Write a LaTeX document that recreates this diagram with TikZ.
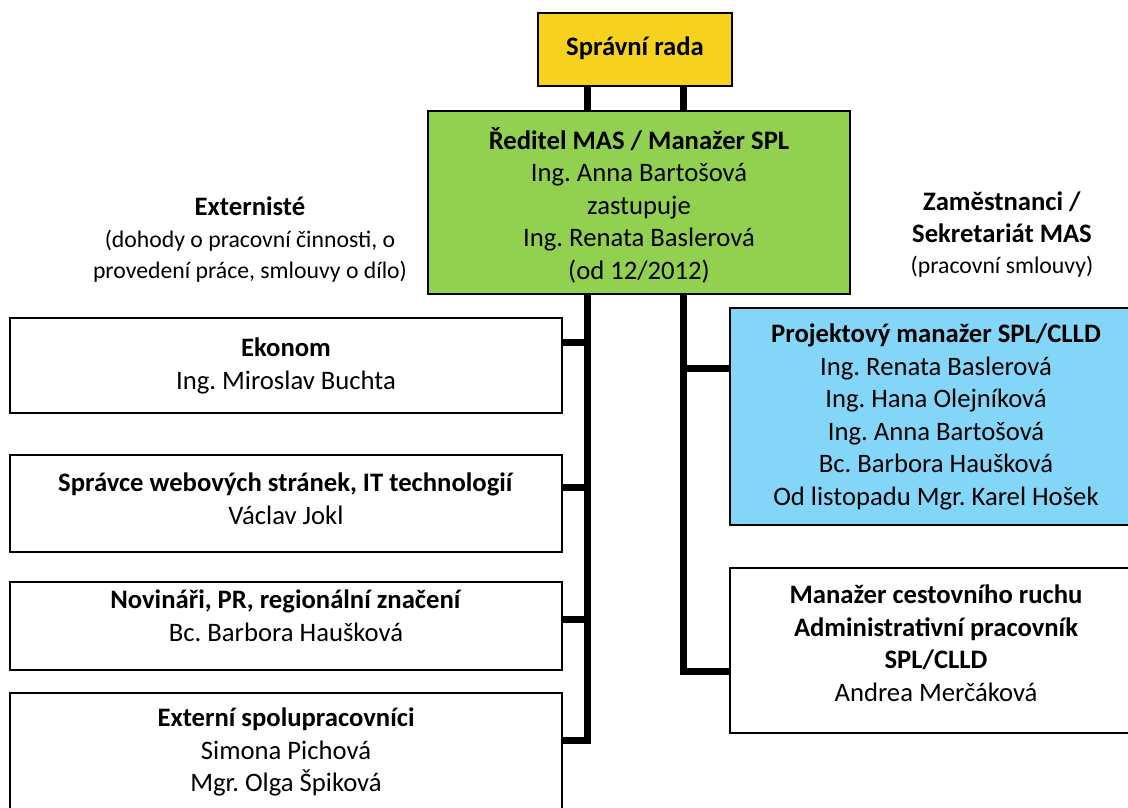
\documentclass[tikz,border=0pt]{standalone}
\usepackage{fontspec}
\setmainfont{Carlito}
\usetikzlibrary{backgrounds}
\frenchspacing

\definecolor{radaYellow}{RGB}{246,210,30}
\definecolor{reditelGreen}{RGB}{146,208,80}
\definecolor{projektBlue}{RGB}{131,214,247}

\tikzset{
  box/.style={draw=black, line width=1.1pt, fill=white, inner sep=0pt, minimum width=414pt},
  txt/.style={align=center, inner sep=0pt, font=\fontsize{20}{24.4}\selectfont},
  hdr/.style={align=center, inner sep=0pt, font=\fontsize{20}{23.6}\selectfont},
  trunk/.style={line width=5.25pt, black},
}
\newcommand{\smalltxt}{\fontsize{17.8}{23.6}\selectfont}

\begin{document}
\begin{tikzpicture}[x=0.75pt,y=0.75pt,yscale=-1,xscale=1]
\useasboundingbox (0,0) rectangle (1128,807);
\clip (0,0) rectangle (1128,807);

% Boxes
\node[box, fill=radaYellow, minimum width=145.5pt, minimum height=54.75pt] (rada) at (635,49.5) {};
\node[box, fill=reditelGreen, minimum width=316.5pt, minimum height=137.25pt] (reditel) at (639,202.5) {};
\node[box, minimum height=71.25pt] (ekonom) at (286,365.5) {};
\node[box, minimum height=72.75pt] (spravce) at (286,503.5) {};
\node[box, minimum height=66pt] (novinari) at (286,626) {};
\node[box, minimum height=97.5pt] (externi) at (286,758) {};
\node[box, fill=projektBlue, minimum width=309pt, minimum height=162.75pt] (projekt) at (936,416.5) {};
\node[box, minimum width=309pt, minimum height=123.75pt] (manazer) at (936,650.5) {};

% Junctions
\coordinate (jEkonom) at (587,342);
\coordinate (jSpravce) at (587,487);
\coordinate (jNovinari) at (587,619);
\coordinate (jExterni) at (587,740);
\coordinate (jProjekt) at (683,368);
\coordinate (jManazer) at (683,671);

% Connectors
\begin{pgfonlayer}{background}
\draw[trunk] (rada.south -| jEkonom) -- (jExterni) -- (jExterni -| externi.east);
\draw[trunk] (jEkonom) -- (jEkonom -| ekonom.east);
\draw[trunk] (jSpravce) -- (jSpravce -| spravce.east);
\draw[trunk] (jNovinari) -- (jNovinari -| novinari.east);
\draw[trunk] (rada.south -| jProjekt) -- (jManazer) -- (jManazer -| manazer.west);
\draw[trunk] (jProjekt) -- (jProjekt -| projekt.west);
\end{pgfonlayer}

% Text Node
\node[txt] (radaT) at (635,48) {\textbf{Správní rada}};
% Text Node
\node[txt] (reditelT) at (639,205) {\textbf{Ředitel MAS / Manažer SPL}\\Ing. Anna Bartošová\\zastupuje\\Ing. Renata Baslerová\\(od 12/2012)};
% Text Node
\node[txt] (ekonomT) at (286,366) {\textbf{Ekonom}\\Ing. Miroslav Buchta};
% Text Node
\node[txt] (spravceT) at (286,498.5) {\textbf{Správce webových stránek, IT technologií}\\Václav Jokl};
% Text Node
\node[txt] (novinariT) at (286,616) {\textbf{Novináři, PR, regionální značení}\\Bc. Barbora Haušková};
% Text Node
\node[txt] (externiT) at (286,752) {\textbf{Externí spolupracovníci}\\Simona Pichová\\Mgr. Olga Špiková};
% Text Node
\node[txt] (projektT) at (936,417) {\textbf{Projektový manažer SPL/CLLD}\\Ing. Renata Baslerová\\Ing. Hana Olejníková\\Ing. Anna Bartošová\\Bc. Barbora Haušková\\Od listopadu Mgr. Karel Hošek};
% Text Node
\node[txt] (manazerT) at (936,643) {\textbf{Manažer cestovního ruchu}\\\textbf{Administrativní pracovník}\\\textbf{SPL/CLLD}\\Andrea Merčáková};
% Text Node
\node[hdr] (externisteT) at (250,240) {\textbf{Externisté}\\{\smalltxt(dohody o pracovní činnosti, o}\\{\smalltxt provedení práce, smlouvy o dílo)}};
% Text Node
\node[hdr] (zamestnanciT) at (1002,235) {\textbf{Zaměstnanci /}\\\textbf{Sekretariát MAS}\\{\smalltxt(pracovní smlouvy)}};

\end{tikzpicture}
\end{document}
